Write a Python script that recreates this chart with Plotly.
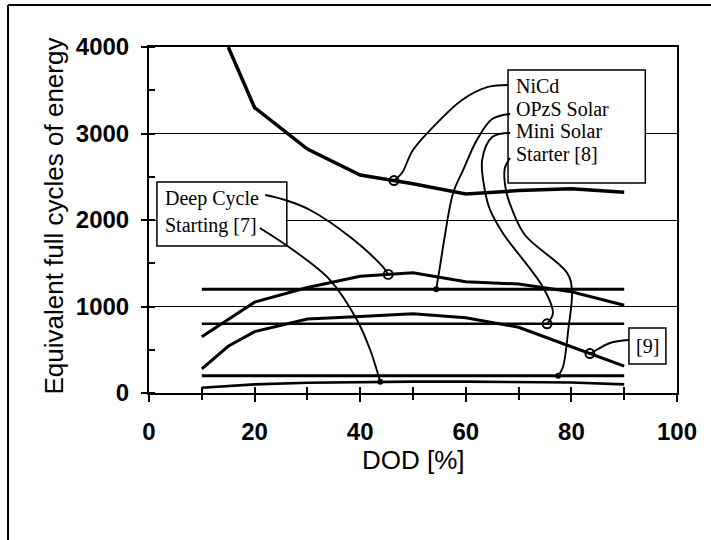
import numpy as np
import plotly.graph_objects as go

# ---- cycle-life data (DOD in %, equivalent full cycles) ----
dod = [10, 20, 30, 40, 50, 60, 70, 80, 90]

nicd_dod = [15, 20, 30, 40, 50, 60, 70, 80, 90]
nicd = [4000, 3300, 2820, 2520, 2420, 2300, 2340, 2360, 2320]

deep_cycle = [650, 1050, 1220, 1350, 1390, 1285, 1260, 1170, 1015]
opzs_solar = [1200, 1200, 1200, 1200, 1200, 1200, 1200, 1200, 1200]
mini_solar = [800, 800, 800, 800, 800, 800, 800, 800, 800]
starter_8 = [200, 200, 200, 200, 200, 200, 200, 200, 200]
starting_7 = [60, 100, 118, 127, 132, 132, 128, 122, 100]

ref9_dod = [10, 15, 20, 30, 40, 50, 60, 70, 80, 90]
ref9 = [280, 540, 710, 855, 885, 915, 870, 760, 535, 310]

x_tickvals = [0, 20, 40, 60, 80, 100]
y_tickvals = [0, 1000, 2000, 3000, 4000]

series = [
    ("NiCd", nicd_dod, nicd, 3.5),
    ("Deep Cycle", dod, deep_cycle, 3),
    ("OPzS Solar", dod, opzs_solar, 3),
    ("Mini Solar", dod, mini_solar, 2.6),
    ("Starter [8]", dod, starter_8, 3),
    ("Starting [7]", dod, starting_7, 2.6),
    ("[9]", ref9_dod, ref9, 3),
]
lookup = {name: (xs, ys) for name, xs, ys, _ in series}

# hand-drawn leader lines: waypoints from the label box towards the curve,
# the final point sits on the labelled curve at the given DOD
leaders = [
    ("NiCd", [68.0, 64.2, 59.3, 55.1, 50.0, 47.9], [3561, 3538, 3388, 3156, 2809, 2543], 46.4, "loop"),
    ("OPzS Solar", [68.4, 65.0, 62.1, 59.5, 57.6, 55.9, 55.1], [3226, 3168, 2925, 2578, 2312, 1769, 1457], 54.4, "dot"),
    ("Mini Solar", [68.4, 65.0, 63.1, 63.6, 64.6, 67.0, 74.6, 76.5], [3006, 2960, 2694, 2347, 2116, 1850, 1225, 925], 75.4, "loop"),
    ("Starter [8]", [68.4, 67.4, 67.6, 68.8, 71.2, 79.2, 80.1, 79.4, 78.4], [2717, 2601, 2347, 2116, 1827, 1387, 1191, 728, 301], 77.5, "dot"),
    ("Deep Cycle", [22.0, 25.8, 30.5, 38.1, 44.3], [2289, 2231, 2116, 1803, 1457], 45.3, "loop"),
    ("Starting [7]", [21.0, 27.3, 34.3, 39.4, 41.9], [1908, 1653, 1306, 844, 497], 43.8, "dot"),
    ("[9]", [90.9, 87.3, 84.1], [613, 578, 474], 83.5, "loop"),
]

fig = go.Figure()

for name, xs, ys, w in series:
    fig.add_trace(go.Scatter(x=xs, y=ys, mode="lines", name=name,
                             line=dict(color="black", width=w),
                             showlegend=False, hoverinfo="skip"))

for name, lx, ly, end_x, kind in leaders:
    sx, sy = lookup[name]
    end_y = float(np.interp(end_x, sx, sy))
    fig.add_trace(go.Scatter(x=lx + [end_x], y=ly + [end_y], mode="lines",
                             line=dict(color="black", width=1.9, shape="spline", smoothing=1.0),
                             xaxis="x2", showlegend=False, hoverinfo="skip"))
    if kind == "loop":
        mk = dict(symbol="circle-open", size=9, color="black", line=dict(width=1.9))
    else:
        mk = dict(symbol="circle", size=6, color="black")
    fig.add_trace(go.Scatter(x=[end_x], y=[end_y], mode="markers", marker=mk,
                             xaxis="x2", showlegend=False, hoverinfo="skip"))

# label boxes (white, above the grid, below the curves)
boxes = [
    (68.0, 94.0, 2428, 3735),
    (1.5, 26.1, 1699, 2440),
    (90.9, 97.9, 335, 751),
]
for x0, x1, y0, y1 in boxes:
    fig.add_shape(type="rect", xref="x", yref="y", x0=x0, x1=x1, y0=y0, y1=y1,
                  line=dict(color="black", width=1.5), fillcolor="white", layer="between")

serif = dict(family="Liberation Serif, Times New Roman, serif", size=20, color="black")
label_lines = [
    ("NiCd", 69.2, 3545),
    ("OPzS Solar", 69.2, 3285),
    ("Mini Solar", 69.2, 3025),
    ("Starter [8]", 69.2, 2765),
    ("Deep Cycle", 2.6, 2250),
    ("Starting [7]", 2.6, 1940),
]
for txt, x, y in label_lines:
    fig.add_annotation(text=txt, x=x, y=y, xref="x", yref="y", xanchor="left",
                       yanchor="middle", showarrow=False, font=serif)
fig.add_annotation(text="[9]", x=94.4, y=543, xref="x", yref="y", xanchor="center",
                   yanchor="middle", showarrow=False, font=serif)

sans = "Liberation Sans, Arial, sans-serif"
fig.add_annotation(text="Equivalent full cycles of energy", textangle=-90,
                   xref="paper", yref="paper", x=(54 - 149) / 528, y=0.51,
                   xanchor="center", yanchor="middle", showarrow=False,
                   font=dict(family=sans, size=26, color="black"))
fig.add_annotation(text="DOD [%]", xref="paper", yref="paper", x=0.5, y=-0.195,
                   xanchor="center", yanchor="middle", showarrow=False,
                   font=dict(family=sans, size=26, color="black"))

# outer frame of the figure (top and left edges)
fig.add_shape(type="line", xref="paper", yref="paper", x0=-0.267, x1=1.1, y0=1.1214, y1=1.1214,
              line=dict(color="black", width=2))
fig.add_shape(type="line", xref="paper", yref="paper", x0=-0.267, x1=-0.267, y0=1.1214, y1=-0.45,
              line=dict(color="black", width=2))

tickfont = dict(family=sans, size=24, color="black", weight="bold")

fig.update_layout(
    width=711, height=540,
    margin=dict(l=149, r=34, t=47, b=147),
    paper_bgcolor="white", plot_bgcolor="white",
    xaxis=dict(range=[0, 100], tickvals=x_tickvals, ticks="outside", ticklen=7,
               tickwidth=1.5, tickcolor="black", showline=True, linewidth=1.5,
               linecolor="black", mirror=True, showgrid=False, zeroline=False,
               tickfont=tickfont, ticklabelstandoff=9,
               minor=dict(dtick=10, tick0=0, ticks="outside", ticklen=5,
                          tickwidth=1.5, tickcolor="black", showgrid=False)),
    xaxis2=dict(range=[0, 100], overlaying="x", anchor="y", side="bottom",
                tickvals=[10, 20, 30, 40, 50, 60, 70, 80, 90], ticks="inside",
                ticklen=6, tickwidth=1.5, tickcolor="black", showticklabels=False,
                showgrid=False, zeroline=False, showline=False),
    yaxis=dict(range=[0, 4000], tickvals=y_tickvals, ticks="outside", ticklen=6,
               tickwidth=1.5, tickcolor="black", showline=True, linewidth=2,
               linecolor="black", mirror=True, showgrid=True, gridcolor="black",
               gridwidth=1, zeroline=False, tickfont=tickfont, ticklabelstandoff=7,
               minor=dict(dtick=500, tick0=0, ticks="inside", ticklen=6,
                          tickwidth=1.5, tickcolor="black", showgrid=False)),
)

fig.write_html("out.html")
